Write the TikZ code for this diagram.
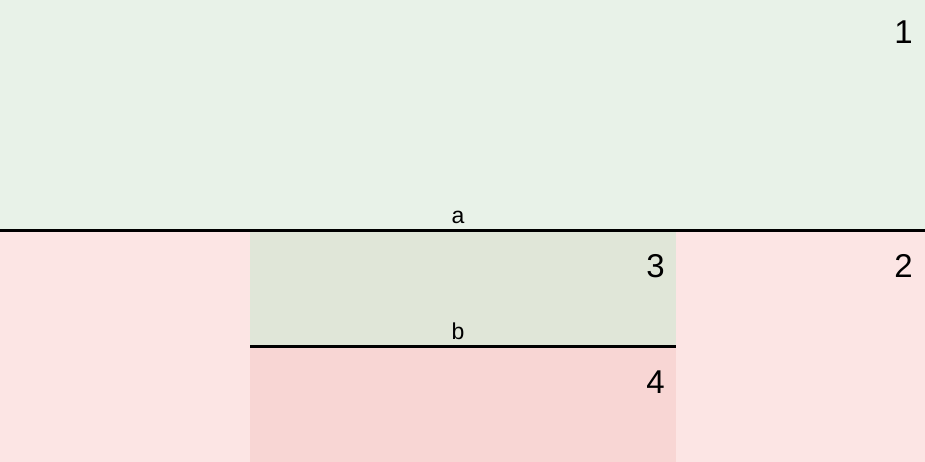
\documentclass[tikz,border=0pt]{standalone}
\usepackage{fontspec}
\setmainfont{Liberation Sans}
\usetikzlibrary{positioning}
\definecolor{UpGreen}{RGB}{232,242,232}
\definecolor{MidGreen}{RGB}{224,230,216}
\definecolor{LowPink}{RGB}{252,229,228}
\definecolor{DeepPink}{RGB}{248,214,212}
\tikzset{
  region/.style={draw=none},
  cut/.style={line width=3pt,draw=black},
  numlabel/.style={anchor=base east,font=\fontsize{33}{33}\selectfont,inner sep=0pt},
  cutlabel/.style={anchor=base,font=\fontsize{23}{23}\selectfont,inner sep=0pt}
}
\begin{document}
\begin{tikzpicture}[x=1pt,y=-1pt]
\useasboundingbox (0,0) rectangle (925,462);
% regions
\fill[UpGreen] (0,0) rectangle (925,230);
\fill[LowPink] (0,230) rectangle (925,462);
\fill[MidGreen] (250,230) rectangle (676,346);
\fill[DeepPink] (250,346) rectangle (676,462);
% cut lines
\coordinate (aL) at (0,230.5); \coordinate (aR) at (925,230.5);
\coordinate (bL) at (250,346.5); \coordinate (bR) at (676,346.5);
\draw[cut] (aL)--(aR);
\draw[cut] (bL)--(bR);
% labels
\node[numlabel] (one) at (913,44) {1};
\node[numlabel] (two) at (913,277) {2};
\node[numlabel] (three) at (665,277) {3};
\node[numlabel] (four) at (665,393) {4};
\node[cutlabel] (la) at (458,223) {a};
\node[cutlabel] (lb) at (458,339) {b};
\end{tikzpicture}
\end{document}
